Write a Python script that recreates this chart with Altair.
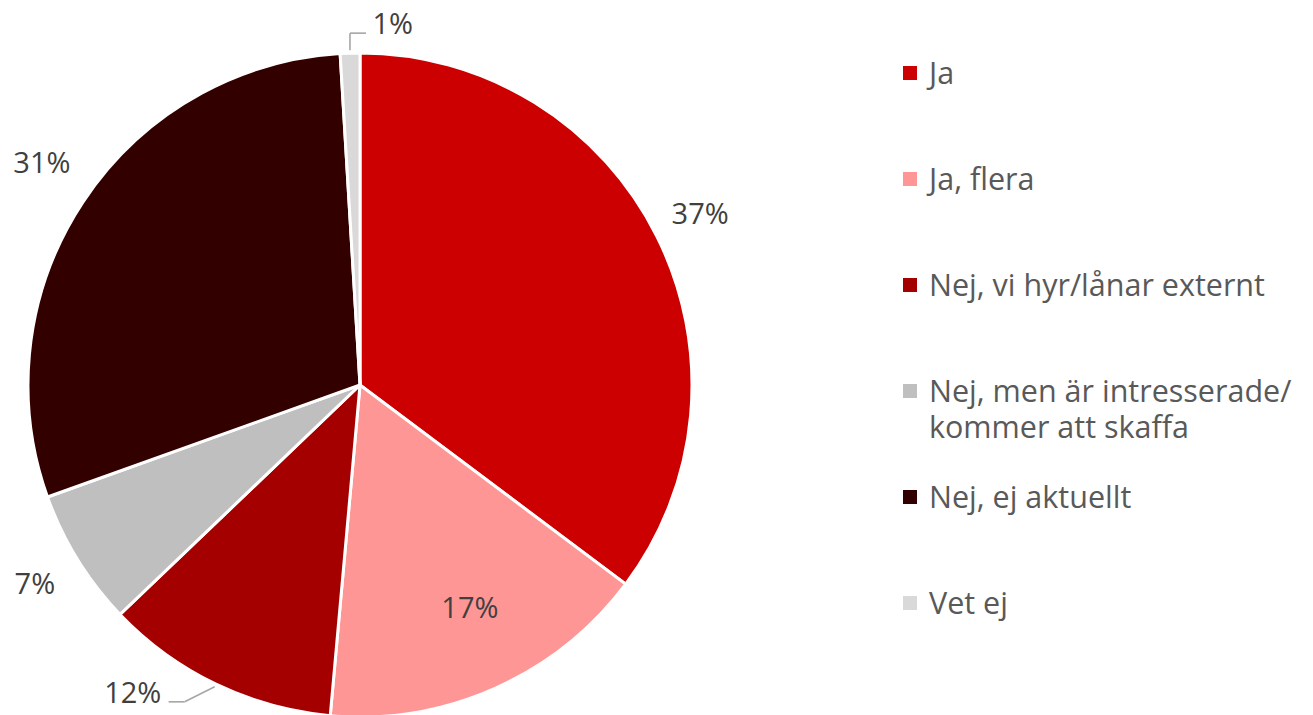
import math
import altair as alt
import pandas as pd

# ---- data ----
categories = ["Ja", "Ja, flera", "Nej, vi hyr/lånar externt",
              "Nej, men är intresserade/\nkommer att skaffa", "Nej, ej aktuellt", "Vet ej"]
values = [37, 17, 12, 7, 31, 1]
labels = ["37%", "17%", "12%", "7%", "31%", "1%"]
colors = ["#CC0000", "#FF9696", "#A50000", "#BFBFBF", "#330000", "#D9D9D9"]

# label placement (style): radius in px and angular nudge (deg) from slice mid-angle
label_radius = [381, 248, 382, 381, 388, 363]
label_nudge = [-0.2, -2.3, 10.8, 0.3, 1.5, 6.9]
# leader-line elbows (style) for the labels that are moved away from their slice
leader_steps = {2: [(-30, -15), (-16, 0)], 5: [(0, 17), (16, 0)]}

FONT = "Open Sans"
W, H = 1297, 707
CX, CY = 352, 377          # pie centre inside the plot area
R = 332
xs = alt.Scale(domain=[-CX, W - CX], nice=False, zero=False)
ys = alt.Scale(domain=[CY - H, CY], nice=False, zero=False)

total = sum(values)
cum = 0
rows, lab_rows, seg_rows = [], [], []
for i, (c, v, l) in enumerate(zip(categories, values, labels)):
    mid = (cum + v / 2) / total * 360
    cum += v
    rows.append({"category": c, "value": v, "idx": i})
    a = math.radians(mid + label_nudge[i])
    lab_rows.append({"label": l, "lx": label_radius[i] * math.sin(a),
                     "ly": label_radius[i] * math.cos(a)})
    if i in leader_steps:
        am = math.radians(mid)
        px, py = (R + 3) * math.sin(am), (R + 3) * math.cos(am)
        for dx, dy in leader_steps[i]:
            seg_rows.append({"x": px, "y": py, "x2": px + dx, "y2": py + dy})
            px, py = px + dx, py + dy

df = pd.DataFrame(rows)
df_lab = pd.DataFrame(lab_rows)
df_seg = pd.DataFrame(seg_rows)

color = alt.Color("category:N", scale=alt.Scale(domain=categories, range=colors), legend=None)

pie = alt.Chart(df).mark_arc(outerRadius=R, stroke="white", strokeWidth=3).encode(
    theta=alt.Theta("value:Q", stack=True),
    order=alt.Order("idx:Q"),
    color=color,
    x=alt.value(CX), y=alt.value(CY),
)

leaders = alt.Chart(df_seg).mark_rule(color="#A6A6A6", strokeWidth=1.6).encode(
    x=alt.X("x:Q", scale=xs, axis=None), y=alt.Y("y:Q", scale=ys, axis=None),
    x2="x2:Q", y2="y2:Q",
)

pct = alt.Chart(df_lab).mark_text(font=FONT, fontSize=29, color="#404040",
                                   align="center", baseline="alphabetic", dy=10.5).encode(
    x=alt.X("lx:Q", scale=xs, axis=None), y=alt.Y("ly:Q", scale=ys, axis=None),
    text="label:N",
)

legend_y = alt.Y("category:N", sort=categories, axis=None,
                 scale=alt.Scale(type="point", range=[65, 595], padding=0))
leg_sq = alt.Chart(df).mark_square(size=196, opacity=1).encode(
    x=alt.value(902), y=legend_y, color=color,
)
leg_tx = alt.Chart(df).mark_text(font=FONT, fontSize=30.5, color="#595959", align="left",
                                  baseline="alphabetic", dy=11, lineBreak="\n",
                                  lineHeight=36).encode(
    x=alt.value(921), y=legend_y, text="category:N",
)

legend = alt.layer(leg_sq, leg_tx)
main = alt.layer(pie, leaders, pct)

chart = alt.layer(main, legend).resolve_scale(y="independent").properties(
    width=W, height=H, padding=0,
    autosize=alt.AutoSizeParams(type="none"),
).configure_view(stroke=None)

chart.save("out.html", embed_options={"renderer": "svg", "actions": False})
